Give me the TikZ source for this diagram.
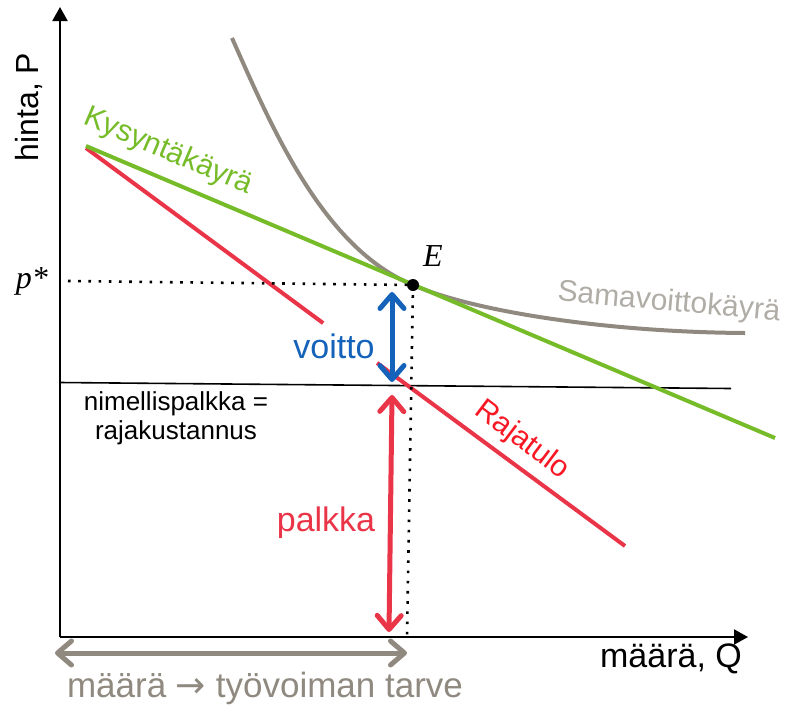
\documentclass[tikz,border=0pt]{standalone}
\usepackage{fontspec}
\setmainfont{Liberation Sans}
\newfontfamily\serifit{Liberation Serif}
\newfontfamily\symfnt{DejaVu Sans}
\usetikzlibrary{arrows.meta,calc}
\definecolor{dgreen}{RGB}{118,188,40}
\definecolor{lred}{RGB}{234,52,72}
\definecolor{tred}{RGB}{248,24,36}
\definecolor{lblue}{RGB}{20,98,186}
\definecolor{lgray}{RGB}{143,137,127}
\definecolor{tgray}{RGB}{176,172,166}
\begin{document}
\begin{tikzpicture}[x=1pt,y=-1pt,
  axis/.style={line width=2pt,-{Triangle[length=14pt,width=15pt]}},
  curve/.style={line width=4pt},
  guide/.style={line width=2.6pt,dash pattern=on 2.6pt off 7.6pt},
  dbl/.style={line width=5pt,{Straight Barb[length=14pt,width=24pt,round]}-{Straight Barb[length=14pt,width=24pt,round]}},
  lbl/.style={inner sep=0pt,font=\fontsize{#1}{#1}\selectfont},
  lbl/.default=32]
\useasboundingbox (0,0) rectangle (786,705);
% coordinates
\coordinate (O) at (60,637);
\coordinate (Ytip) at (60,7);
\coordinate (Xtip) at (748,637);
\coordinate (D1) at (86,146);
\coordinate (D2) at (775,438);
\coordinate (R1) at (86,148);
\coordinate (R2) at (625,546);
\coordinate (E) at (413,285);
\coordinate (S1) at (232,38);
\coordinate (S2) at (745,333);
\coordinate (W1) at (60,382.5);
\coordinate (W2) at (731,388.5);
\coordinate (P1) at (68,281);
\coordinate (V1) at (407,637);
% axes
\draw[axis] (O) -- (Ytip);
\draw[axis] (O) -- (Xtip);
% wage line
\draw[line width=1.6pt] (W1) -- (W2);
% marginal revenue (red) with gap
\draw[curve,lred] (R1) -- ($(R1)!0.44!(R2)$);
\draw[curve,lred] ($(R1)!0.54!(R2)$) -- (R2);
% iso-profit curve
\draw[curve,lgray] (S1) .. controls (272,128) and (323,248) .. (E)
  .. controls (470,310) and (600,332) .. (S2);
% demand
\draw[curve,dgreen] (D1) -- (D2);
% dotted guides
\draw[guide] (P1) -- (E);
\draw[guide] (E) -- (V1);
\fill (E) circle (6pt);
% double arrows
\coordinate (B1) at (392,292);
\coordinate (B2) at (392,382);
\coordinate (C1) at (392,395);
\coordinate (C2) at (389,632);
\coordinate (G1) at (55,653);
\coordinate (G2) at (407,653);
\draw[dbl,lblue] (B1) -- (B2);
\draw[dbl,lred] (C1) -- (C2);
\draw[dbl,lgray] (G1) -- (G2);
% labels
\node[lbl=32,rotate=90] (ylab) at (29,107) {hinta, P};
\node[lbl=34] (xlab) at (671,659) {määrä, Q};
\node[inner sep=0pt,font=\serifit\itshape\fontsize{32}{32}\selectfont] (pstar) at (32,281) {p*};
\node[inner sep=0pt,font=\serifit\itshape\fontsize{32}{32}\selectfont] (Elab) at (433,256) {E};
\node[lbl=30,dgreen,rotate=-23] (klab) at (168,152) {Kysyntäkäyrä};
\node[lbl=30,tgray,rotate=-5] (slab) at (669,303) {Samavoittokäyrä};
\node[lbl=30,tred,rotate=-37] (rlab) at (522,440) {Rajatulo};
\node[lbl=34,lblue] (vlab) at (334,346) {voitto};
\node[lbl=34,lred] (plab) at (326,523) {palkka};
\node[inner sep=0pt,align=center,font=\fontsize{26}{29}\selectfont] (nlab) at (176,418) {nimellispalkka =\\rajakustannus};
\node[lbl=35,lgray] (qlab) at (265,688) {määrä {\symfnt\fontsize{36}{36}\selectfont →} työvoiman tarve};
\end{tikzpicture}
\end{document}
